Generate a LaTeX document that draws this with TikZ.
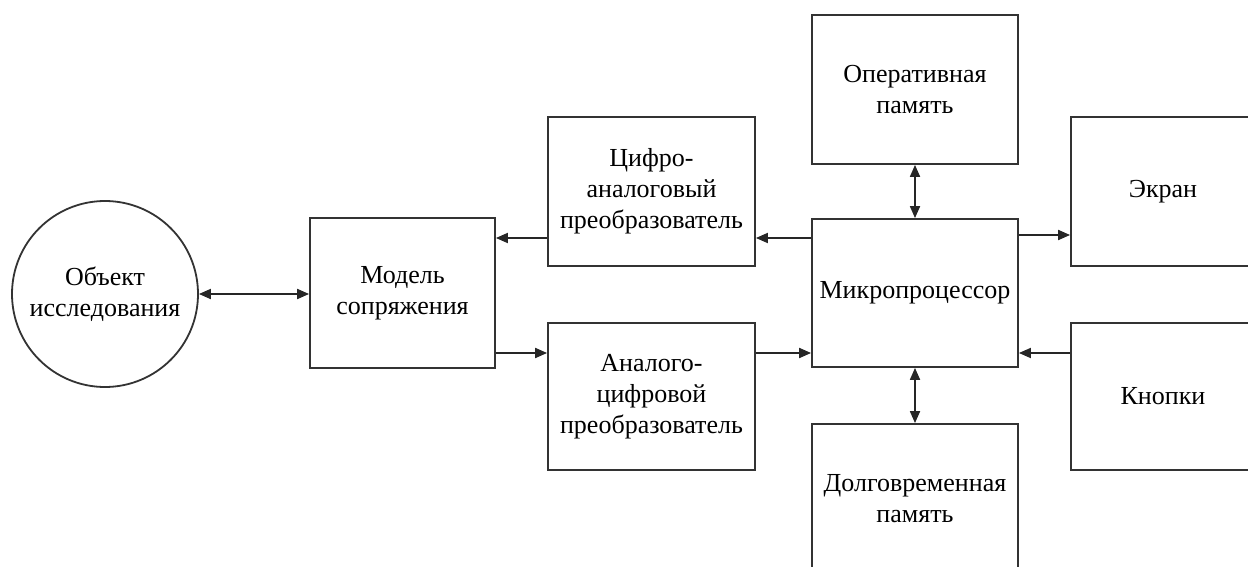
\documentclass[tikz,border=0pt]{standalone}
\usepackage{fontspec}
\setmainfont{Liberation Serif}
\usetikzlibrary{arrows.meta}
\begin{document}
\begin{tikzpicture}[x=1pt,y=-1pt,
  blk/.style={draw=black!80,line width=1.8pt,fill=white,inner sep=0pt,align=center,
    font=\fontsize{26}{31}\selectfont},
  conn/.style={draw=black!85,line width=1.8pt,-{Triangle[length=12pt,width=10pt]}},
  dconn/.style={draw=black!85,line width=1.8pt,{Triangle[length=12pt,width=10pt]}-{Triangle[length=12pt,width=10pt]}}]
\clip (0,0) rectangle (1248,567);
\fill[white] (0,0) rectangle (1248,567);
\node[blk,circle,minimum size=186pt] (obj) at (105,294) {Объект\\исследования};
\node[blk,minimum width=185pt,minimum height=150pt] (model) at (402.5,293) {Модель\\сопряжения};
\node[blk,minimum width=207pt,minimum height=149pt] (dac) at (651.5,191.5) {Цифро-\\аналоговый\\преобразователь};
\node[blk,minimum width=207pt,minimum height=147pt] (adc) at (651.5,396.5) {Аналого-\\цифровой\\преобразователь};
\node[blk,minimum width=206pt,minimum height=148pt] (cpu) at (915,293) {Микропроцессор};
\node[blk,minimum width=206pt,minimum height=149pt] (ram) at (915,89.5) {Оперативная\\память};
\node[blk,minimum width=206pt,minimum height=149pt] (rom) at (915,498.5) {Долговременная\\память};
\node[blk,minimum width=184pt,minimum height=149pt] (scr) at (1163,191.5) {Экран};
\node[blk,minimum width=184pt,minimum height=147pt] (btn) at (1163,396.5) {Кнопки};
\coordinate (ya) at (0,238);
\coordinate (yb) at (0,353);
\coordinate (yc) at (0,235);
\draw[dconn] (obj.east) -- (obj.east -| model.west);
\draw[conn] (cpu.west |- ya) -- (dac.east |- ya);
\draw[conn] (dac.west |- ya) -- (model.east |- ya);
\draw[conn] (model.east |- yb) -- (adc.west |- yb);
\draw[conn] (adc.east |- yb) -- (cpu.west |- yb);
\draw[dconn] (ram.south) -- (cpu.north);
\draw[dconn] (cpu.south) -- (rom.north);
\draw[conn] (cpu.east |- yc) -- (scr.west |- yc);
\draw[conn] (btn.west |- yb) -- (cpu.east |- yb);
\end{tikzpicture}
\end{document}
